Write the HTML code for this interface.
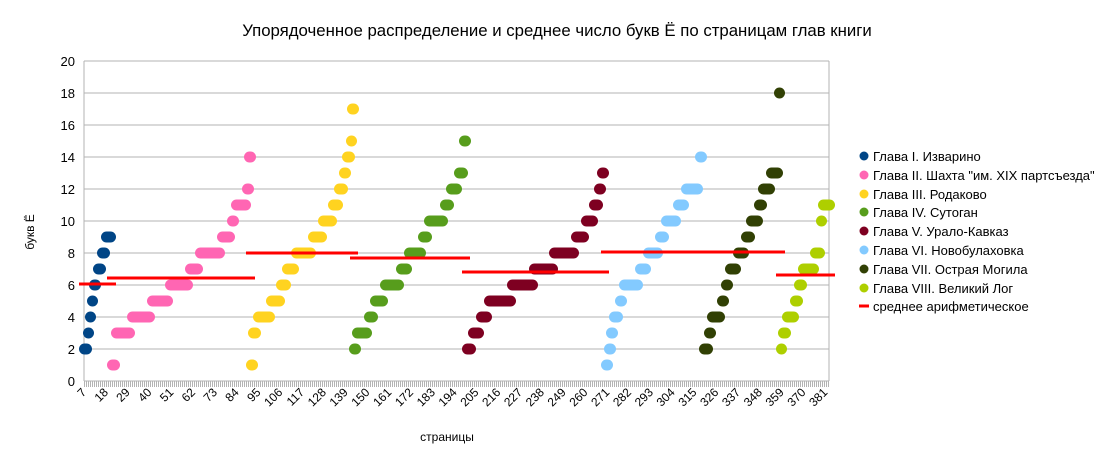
<!DOCTYPE html>
<html><head><meta charset="utf-8"><style>
body{margin:0;background:#fff}
svg text{font-family:"Liberation Sans","DejaVu Sans",sans-serif;fill:#000}
</style></head><body>
<svg width="1115" height="463" viewBox="0 0 1115 463" xmlns="http://www.w3.org/2000/svg">
<rect width="1115" height="463" fill="#fff"/>
<text x="557" y="36" font-size="16.8" text-anchor="middle">Упорядоченное распределение и среднее число букв Ё по страницам глав книги</text>
<g stroke="#b3b3b3" stroke-width="1">
<line x1="84" y1="61" x2="829" y2="61"/><line x1="84" y1="93" x2="829" y2="93"/><line x1="84" y1="125" x2="829" y2="125"/><line x1="84" y1="157" x2="829" y2="157"/><line x1="84" y1="189" x2="829" y2="189"/><line x1="84" y1="221" x2="829" y2="221"/><line x1="84" y1="253" x2="829" y2="253"/><line x1="84" y1="285" x2="829" y2="285"/><line x1="84" y1="317" x2="829" y2="317"/><line x1="84" y1="349" x2="829" y2="349"/><line x1="84" y1="381" x2="829" y2="381"/>
<line x1="84" y1="61" x2="84" y2="381"/><line x1="829" y1="61" x2="829" y2="381"/>
<line x1="84" y1="384" x2="829" y2="384" stroke-width="6" stroke-dasharray="1 1"/>
</g>
<g font-size="13" text-anchor="end">
<text x="75" y="66">20</text><text x="75" y="98">18</text><text x="75" y="130">16</text><text x="75" y="162">14</text><text x="75" y="194">12</text><text x="75" y="226">10</text><text x="75" y="258">8</text><text x="75" y="290">6</text><text x="75" y="322">4</text><text x="75" y="354">2</text><text x="75" y="386">0</text>
</g>
<g id="xl" font-size="12" text-anchor="end"></g>
<text x="447" y="441" font-size="12" text-anchor="middle">страницы</text>
<text transform="translate(34,232) rotate(-90)" font-size="12" text-anchor="middle">букв Ё</text>
<g id="dots" stroke-linecap="round" stroke-width="11"></g>
<g stroke="#ff0000" stroke-width="3">
<line x1="79" y1="284" x2="116" y2="284"/>
<line x1="107" y1="278" x2="255" y2="278"/>
<line x1="246" y1="253" x2="358" y2="253"/>
<line x1="350" y1="258" x2="470" y2="258"/>
<line x1="462" y1="272" x2="609" y2="272"/>
<line x1="601" y1="252" x2="785" y2="252"/>
<line x1="776" y1="275" x2="835" y2="275"/>
</g>
<g font-size="13">
<circle cx="864" cy="156" r="4.5" fill="#004586"/><text x="873" y="161">Глава I. Изварино</text>
<circle cx="864" cy="175" r="4.5" fill="#ff66b3"/><text x="873" y="180">Глава II. Шахта "им. XIX партсъезда"</text>
<circle cx="864" cy="194" r="4.5" fill="#ffd320"/><text x="873" y="199">Глава III. Родаково</text>
<circle cx="864" cy="212" r="4.5" fill="#579d1c"/><text x="873" y="217">Глава IV. Сутоган</text>
<circle cx="864" cy="231" r="4.5" fill="#7e0021"/><text x="873" y="236">Глава V. Урало-Кавказ</text>
<circle cx="864" cy="250" r="4.5" fill="#83caff"/><text x="873" y="255">Глава VI. Новобулаховка</text>
<circle cx="864" cy="269" r="4.5" fill="#314004"/><text x="873" y="274">Глава VII. Острая Могила</text>
<circle cx="864" cy="288" r="4.5" fill="#aecf00"/><text x="873" y="293">Глава VIII. Великий Лог</text>
<line x1="859" y1="306" x2="869" y2="306" stroke="#ff0000" stroke-width="3"/><text x="873" y="311">среднее арифметическое</text>
</g>
<script>
var ns="http://www.w3.org/2000/svg";
var xl=document.getElementById("xl");
for(var i=0;i<35;i++){var v=7+11*i;var x=82+i*21.8+5;var t=document.createElementNS(ns,"text");t.setAttribute("transform","translate("+x+",393) rotate(-45)");t.textContent=v;xl.appendChild(t);}
var D=[
["#004586",[[2,79,92],[3,83,94],[4,85,96],[5,87,98],[6,89,101],[7,93,106],[8,97,110],[9,101,116]]],
["#ff66b3",[[1,107,120],[3,111,135],[4,127,155],[5,147,173],[6,165,193],[7,185,203],[8,195,225],[9,217,235],[10,227,239],[11,231,251],[12,243,253],[14,245,255]]],
["#ffd320",[[1,247,257],[3,248,261],[4,253,275],[5,266,285],[6,276,291],[7,282,299],[8,291,316],[9,308,327],[10,318,337],[11,328,343],[12,334,348],[13,340,350],[14,342,355],[15,346,357],[17,347,359]]],
["#579d1c",[[2,350,360],[3,352,372],[4,364,378],[5,370,388],[6,380,404],[7,396,412],[8,404,426],[9,418,432],[10,424,448],[11,440,454],[12,446,462],[13,454,468],[15,460,470]]],
["#7e0021",[[2,462,476],[3,468,484],[4,476,492],[5,484,516],[6,507,538],[7,529,558],[8,549,579],[9,571,589],[10,581,598],[11,589,603],[12,595,605],[13,597,609]]],
["#83caff",[[1,601,613],[2,605,615],[3,607,617],[4,609,623],[5,615,627],[6,619,643],[7,635,651],[8,643,663],[9,655,669],[10,661,681],[11,673,689],[12,681,703],[14,695,707]]],
["#314004",[[2,699,713],[3,705,715],[4,707,725],[5,717,729],[6,721,733],[7,725,741],[8,733,749],[9,741,755],[10,746,763],[11,754,767],[12,758,775],[13,766,783],[18,774,785]]],
["#aecf00",[[2,776,787],[3,778,791],[4,782,799],[5,790,803],[6,794,807],[7,798,819],[8,810,825],[10,816,827],[11,818,835]]]
];
var g=document.getElementById("dots");
D.forEach(function(s){s[1].forEach(function(p){var y=381-p[0]*16;var l=document.createElementNS(ns,"line");l.setAttribute("x1",p[1]+5.5);l.setAttribute("x2",p[2]-5.5);l.setAttribute("y1",y);l.setAttribute("y2",y);l.setAttribute("stroke",s[0]);g.appendChild(l);});});
</script>
</svg>
</body></html>
